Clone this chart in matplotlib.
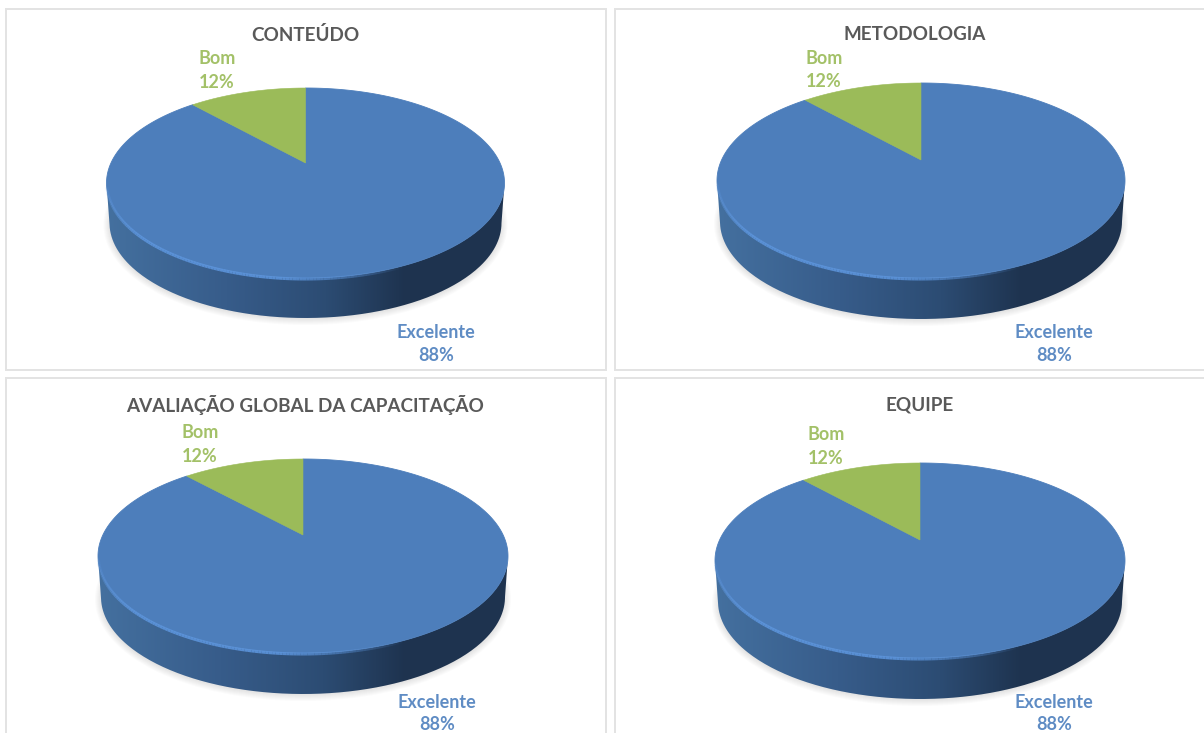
import numpy as np
import matplotlib
matplotlib.use("Agg")
import matplotlib.pyplot as plt
from matplotlib.colors import LinearSegmentedColormap
from matplotlib.patches import Polygon, PathPatch, Ellipse
from matplotlib.path import Path
from matplotlib.collections import LineCollection

plt.rcParams['font.family'] = ['Lato', 'DejaVu Sans']

# ---- data
titles = ["CONTEÚDO", "METODOLOGIA", "AVALIAÇÃO GLOBAL DA CAPACITAÇÃO", "EQUIPE"]
categories = ["Excelente", "Bom"]
excelente = [88, 88, 88, 88]
bom = [12, 12, 12, 12]

# ---- layout (pixels of the 1204x733 picture)
W, H = 1204, 733
panels = [(6, 9, 606, 370), (615, 9, 1212, 370), (6, 378, 606, 741), (615, 378, 1212, 741)]
# cx, cy, a, b, depth, apex y
pies = [(305.5, 183, 199, 95, 40, 163), (921, 180.5, 204, 97.5, 41, 160),
        (303, 556, 205, 97, 41, 535), (920, 560.5, 205, 97.5, 41, 540)]
title_xy = [(305, 35), (915, 35), (305, 405), (920, 405)]
bom_xy = [(217, 59), (824, 58), (200, 433), (826, 435)]
exc_xy = [(436, 332), (1054, 332), (437, 703), (1054, 703)]
BOM_GAP = 23.5
EXC_GAP = [23.5, 23.5, 21.5, 21.5]
ANGLE_SQUASH = 0.80     # perspective of the tilted disc

BLUE, GREEN = "#4d7ebb", "#9bbb59"
LABEL_BLUE, LABEL_GREEN = "#5f8cc4", "#a3c168"
side_cmap = LinearSegmentedColormap.from_list(
    "side", [(0, "#44709f"), (0.30, "#375c8a"), (0.55, "#2c4c73"),
             (0.75, "#1e334f"), (1, "#1f3450")])

fig = plt.figure(figsize=(W / 100, H / 100), dpi=100, facecolor="white")


def arc(cx, cy, a, b, t0, t1, n=200):
    """Points on the ellipse; t measured clockwise from the top."""
    t = np.radians(np.linspace(t0, t1, n))
    return np.column_stack([cx + a * np.sin(t), cy - b * np.cos(t)])


for i, (x0, y0, x1, y1) in enumerate(panels):
    ax = fig.add_axes([x0 / W, 1 - y1 / H, (x1 - x0) / W, (y1 - y0) / H])
    ax.set_xticks([])
    ax.set_yticks([])
    for s in ax.spines.values():
        s.set_color("#e3e3e3")
        s.set_linewidth(1.4)
    cx, cy, a, b, d, apex = pies[i]

    # soft shadow
    for k in range(8):
        ax.add_patch(Ellipse((cx, cy + d + 2), 2 * a + 6 - k * 2, 2 * b + 10 - k * 2,
                             fc="#8a8a8a", ec="none", alpha=0.03, zorder=1))

    # side wall with horizontal gradient
    lower = arc(cx, cy, a, b, 90, 270)
    lower_shift = arc(cx, cy + d, a - 3, b, 270, 90)
    wall = np.vstack([lower, lower_shift])
    grad = np.linspace(0, 1, 256).reshape(1, -1)
    im = ax.imshow(grad, cmap=side_cmap, aspect="auto", zorder=2,
                   extent=(cx - a, cx + a, cy + b + d + 1, cy), interpolation="bilinear")
    im.set_clip_path(PathPatch(Path(np.vstack([wall, wall[:1]])), transform=ax.transData))

    # top face, slice angles come from the values
    total = excelente[i] + bom[i]
    green_span = bom[i] / total * 360 * ANGLE_SQUASH
    blue_pts = np.vstack([[cx, apex], arc(cx, cy, a, b, 0, 360 - green_span, 400)])
    green_pts = np.vstack([[cx, apex], arc(cx, cy, a, b, 360 - green_span, 360, 80)])
    ax.add_patch(Polygon(blue_pts, closed=True, fc=BLUE, ec=BLUE, lw=0.6, zorder=3))
    ax.add_patch(Polygon(green_pts, closed=True, fc=GREEN, ec=GREEN, lw=0.4, zorder=4))

    # light rim on the lower-left of the top face
    rim = arc(cx, cy + 1, a - 0.5, b, 268, 150, 120)
    segs = np.stack([rim[:-1], rim[1:]], axis=1)
    alphas = np.clip(np.sin(np.linspace(0.15, np.pi, len(segs))) * 1.1, 0, 0.9)
    cols = [(0.36, 0.58, 0.86, al) for al in alphas]
    ax.add_collection(LineCollection(segs, colors=cols, linewidths=2.2, zorder=5))

    ax.set_xlim(x0, x1)
    ax.set_ylim(y1, y0)

    ax.text(title_xy[i][0], title_xy[i][1], titles[i], ha="center", va="center",
            fontsize=13.6, color="#595959", fontweight="bold", zorder=6)
    bx, by = bom_xy[i]
    ax.text(bx, by, categories[1], ha="center", va="center", fontsize=13,
            color=LABEL_GREEN, fontweight="bold", zorder=6, clip_on=False)
    ax.text(bx, by + BOM_GAP, f"{bom[i]}%", ha="center", va="center", fontsize=13,
            color=LABEL_GREEN, fontweight="bold", zorder=6, clip_on=False)
    ex, ey = exc_xy[i]
    ax.text(ex, ey, categories[0], ha="center", va="center", fontsize=13,
            color=LABEL_BLUE, fontweight="bold", zorder=6, clip_on=False)
    ax.text(ex, ey + EXC_GAP[i], f"{excelente[i]}%", ha="center", va="center", fontsize=13,
            color=LABEL_BLUE, fontweight="bold", zorder=6, clip_on=False)

fig.savefig("out.png", dpi=100, facecolor="white")
